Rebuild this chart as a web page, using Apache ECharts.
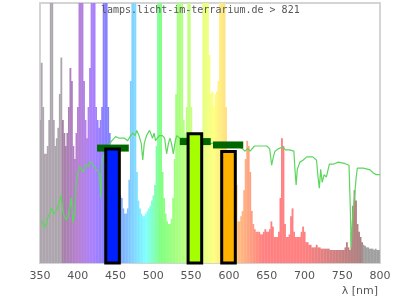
<!DOCTYPE html>
<html>
<head>
<meta charset="utf-8">
<script src="https://cdn.jsdelivr.net/npm/echarts@6.0.0/dist/echarts.min.js"></script>
<style>
html,body{margin:0;padding:0;background:#fff;}
#chart{width:400px;height:300px;}
</style>
</head>
<body>
<div id="chart"></div>
<script>
// ---- data ----
const titleText = 'lamps.licht-im-terrarium.de > 821';
const xTicks = [350, 400, 450, 500, 550, 600, 650, 700, 750, 800];
const axisName = 'λ [nm]';

// lamp spectrum, 2 nm steps from 350 nm (values above 100 are off-scale peaks)
const specStartNm = 350;
const specStepNm = 2;
const specValues = [
  55, 77, 60, 42, 42, 45, 55, 140, 140, 55,      // 350-368
  45, 48, 52, 65, 79, 55, 50, 45, 50, 60,        // 370-388
  75, 70, 45, 40, 50, 60, 140, 140, 140, 70,     // 390-408
  55, 48, 60, 75, 140, 140, 140, 60, 55, 52,     // 410-428
  55, 60, 140, 140, 140, 60, 50, 45, 42, 40,     // 430-448
  38, 35, 30, 26, 25, 21, 19, 19, 21, 32,        // 450-468
  70, 140, 140, 140, 35, 24, 21, 19, 18, 18,     // 470-488
  19, 20, 21, 22, 24, 26, 30, 45, 140, 140,      // 490-508
  140, 35, 25, 19, 16, 15, 15, 17, 25, 40,       // 510-528
  65, 140, 140, 140, 140, 55, 50, 60, 140, 140,  // 530-548
  60, 50, 50, 50, 50, 50, 50, 50, 140, 140,      // 550-568
  140, 140, 80, 65, 66, 60, 65, 66, 70, 140,     // 570-588
  140, 140, 140, 60, 42, 40, 40, 40, 40, 40,     // 590-608
  30, 16, 16, 18, 20, 28, 40, 47, 45, 35,        // 610-628
  20, 15, 13, 12, 12, 12, 11, 11, 12, 13,        // 630-648
  12, 12, 13, 16, 14, 10, 10, 10, 12, 25,        // 650-668
  48, 45, 15, 10, 10, 11, 18, 21, 12, 10,        // 670-688
  10, 10, 10, 12, 14, 12, 8, 8, 7, 7,            // 690-708
  6, 6, 6, 7, 6, 6, 5.5, 5.5, 5.5, 5.5,          // 710-728
  5.5, 5.5, 5, 5, 5, 5, 5, 5, 5, 5,              // 730-748
  5, 5, 6, 8, 6, 5, 12, 22, 28, 24,              // 750-768
  15, 12, 10, 8, 7, 6.5, 6, 6, 5.5, 5.5,         // 770-788
  5.5, 5, 5.5, 5, 5, 5                           // 790-800
];

// daylight reference curve (wavelength, value)
const refNm = [351.8,354,356,358,360.6,363,365,367,369,371.6,374,376,378,380,382,384.8,387,389,391.5,393.6,396,398,400,402.5,405,407,409,411,414,416,418,420,422,424,426.8,429,430.5,432,433.5,436,440,445,450,455,458,462,466,470,473,476,478,481,484,486,488,491,495,499,501,503,505,508,512,515,517.6,520,522,524,526.5,529,531,535,540,545,550,555,560,566,570,574,578,585,590,600,610,618,621,625,628,634,640,645,650,654,656.6,659,661,666,671,675,680,686,687.5,689,690.5,694,698,703,711,716,718,719.7,721.5,723.5,726,729,733,738,745,754,759,760.5,762,763.5,765,767,768.5,770,778,787,791,795,800];
const refValues = [16.5,15,13.5,15,17.7,19,21,21.5,19,20,22,24,26,20,18,16.5,18,21,25,15.4,20,30.8,34.6,37,36,35,37,38,37,39,39,38,37,36,35.5,34,25,38,41,42,45,47,48.6,48,48,48,47,49,50,49,51,49,46,39.6,46,49,51,48,50,47,48,49,49,48,42,46,48,46,42,47,49,48,48,48,48,48,48,47,47,46,46,46,46,45,45,44,43,44,43,45,45,45,45,44,37.6,41,43,44,44.6,43.5,43.5,43,35.8,30,36,38.8,39.5,40.8,40.8,39.5,33,28.8,36,31,34,33,38,38,38.8,38.2,37.6,23,6,16.6,21.5,28,33,36.5,36.5,35.8,34.6,34,34];

// measured bands (bars) and their target markers
const barStartNm = [437, 546, 590.5];
const barEndNm = [455, 564, 608.5];
const barValues = [43.8, 49.7, 42.9];
const barColors = ['#0020ff', '#a5ff00', '#ffb300'];
const markStartNm = [425.5, 535, 579];
const markEndNm = [467.5, 576, 619];
const markValues = [44.2, 46.7, 45.4];

// colour stops of the spectrum fill
const stopNm = [350, 379.9, 380, 400, 420, 440, 465, 490, 510, 545, 580, 612, 645, 700, 777.9, 778, 800];
const stopColor = ['#aea6ae','#aea6ae','#a680a6','#b780d2','#aa80ff','#8080ff','#80bfff','#80ffff','#80ff80','#bfff80','#ffff80','#ffbf80','#ff8080','#ff8080','#a88080','#a0a0a0','#a0a0a0'];

// ---- build ----
function hexToRgb(h) { return [parseInt(h.substr(1,2),16), parseInt(h.substr(3,2),16), parseInt(h.substr(5,2),16)]; }
function colorAt(nm) {
  if (nm <= stopNm[0]) return stopColor[0];
  for (let i = 1; i < stopNm.length; i++) {
    if (nm <= stopNm[i]) {
      const t = (nm - stopNm[i-1]) / (stopNm[i] - stopNm[i-1]);
      const a = hexToRgb(stopColor[i-1]), b = hexToRgb(stopColor[i]);
      const c = a.map((v, k) => Math.round(v + (b[k] - v) * t));
      return 'rgb(' + c.join(',') + ')';
    }
  }
  return stopColor[stopColor.length - 1];
}
const specData = specValues.map((v, i) => [specStartNm + i * specStepNm, v]);
const refData = refNm.map((x, i) => [x, refValues[i]]);
const barData = barStartNm.map((s, i) => [s, barEndNm[i], barValues[i]]);
const markData = markStartNm.map((s, i) => [s, markEndNm[i], markValues[i]]);

const chart = echarts.init(document.getElementById('chart'), null, { renderer: 'canvas' });
chart.setOption({
  animation: false,
  backgroundColor: '#fff',
  grid: { left: 40, top: 3, width: 340, height: 260, show: true, borderColor: '#d4d4d4', borderWidth: 2, backgroundColor: 'transparent' },
  xAxis: {
    type: 'value', min: 350, max: 800, interval: 50,
    axisLine: { show: false }, axisTick: { show: false }, splitLine: { show: false },
    axisLabel: { fontSize: 11, color: '#555', fontFamily: 'DejaVu Sans', margin: 8,
      formatter: v => xTicks.indexOf(v) >= 0 ? String(v) : '' }
  },
  yAxis: { type: 'value', min: 0, max: 100, show: false },
  series: [
    {
      type: 'custom', data: specData, silent: true, z: 1, clip: true,
      renderItem: (params, api) => {
        const nm = api.value(0);
        const lo = Math.max(350, nm - specStepNm / 2), hi = Math.min(800, nm + specStepNm / 2);
        const p0 = api.coord([lo, api.value(1)]);
        const p1 = api.coord([hi, 0]);
        return { type: 'rect', shape: { x: p0[0], y: p0[1], width: p1[0] - p0[0] + 0.35, height: p1[1] - p0[1] },
          style: { fill: colorAt(nm) } };
      }
    },
    {
      type: 'line', data: refData, symbol: 'none', silent: true, z: 2,
      lineStyle: { color: '#5cd65c', width: 1.2 }, clip: true
    },
    {
      type: 'custom', data: markData, silent: true, z: 3, clip: true,
      renderItem: (params, api) => {
        const p0 = api.coord([api.value(0), api.value(2)]);
        const p1 = api.coord([api.value(1), api.value(2)]);
        return { type: 'rect', shape: { x: p0[0], y: p0[1] - 3.5, width: p1[0] - p0[0], height: 7 },
          style: { fill: '#006600' } };
      }
    },
    {
      type: 'custom', data: barData, silent: true, z: 4, clip: false,
      renderItem: (params, api) => {
        const p0 = api.coord([api.value(0), api.value(2)]);
        const p1 = api.coord([api.value(1), 0]);
        return { type: 'rect', shape: { x: p0[0], y: p0[1], width: p1[0] - p0[0], height: p1[1] - p0[1] },
          style: { fill: barColors[params.dataIndex], stroke: '#000', lineWidth: 3 } };
      }
    }
  ],
  graphic: [
    { type: 'text', left: 101, top: 5, z: 100,
      style: { text: titleText, font: '10px "DejaVu Sans Mono"', fill: '#555' } },
    { type: 'text', right: 22, top: 286, z: 100,
      style: { text: axisName, font: '11px "DejaVu Sans"', fill: '#555' } }
  ]
});
</script>
</body>
</html>
